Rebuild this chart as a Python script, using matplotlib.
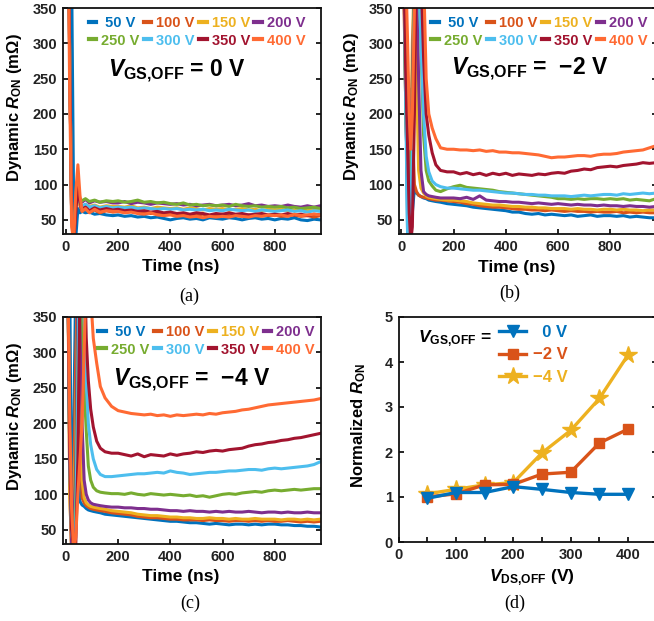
import matplotlib.pyplot as plt
from matplotlib.ticker import MultipleLocator

plt.rcParams['font.family'] = ['Liberation Sans', 'DejaVu Sans']
plt.rcParams['font.weight'] = 'bold'
plt.rcParams['mathtext.fontset'] = 'custom'
plt.rcParams['mathtext.rm'] = 'Liberation Sans:bold'
plt.rcParams['mathtext.bf'] = 'Liberation Sans:bold'
plt.rcParams['mathtext.it'] = 'Liberation Sans:italic:bold'

W, H = 654, 621

volts = [50, 100, 150, 200, 250, 300, 350, 400]
labels = [' 50 V', '100 V', '150 V', '200 V', '250 V', '300 V', '350 V', '400 V']
colors = ['#0072BD', '#D95319', '#EDB120', '#7E2F8E',
          '#77AC30', '#4DBEEE', '#A2142F', '#FF6A33']

# common sampling of the settled part of every trace (ns)
tail_t = list(range(200, 1000, 25))

# ---- (a) VGS,OFF = 0 V ----
a_head_t = [0, 10, 14, 22, 30, 38, 46, 54, 62, 75, 90, 110, 130, 155, 180]
a_head = [
    [800, 800, 700, 400, 60, 25, 66, 60, 62, 60, 61, 58, 59, 57, 56],
    [800, 500, 300, 60, 20, 75, 95, 70, 62, 66, 61, 64, 60, 63, 61],
    [800, 500, 300, 60, 25, 70, 85, 72, 68, 72, 69, 71, 68, 70, 69],
    [800, 500, 300, 60, 25, 75, 90, 78, 75, 79, 74, 77, 75, 76, 74],
    [800, 500, 300, 60, 25, 78, 88, 80, 77, 80, 76, 78, 75, 77, 76],
    [800, 500, 300, 60, 25, 72, 90, 74, 70, 72, 68, 70, 67, 69, 67],
    [800, 500, 300, 60, 15, 60, 102, 75, 65, 68, 63, 67, 64, 66, 64],
    [800, 420, 250, 40, 20, 90, 128, 85, 62, 66, 60, 65, 61, 63, 62],
]
a_tail = [
    [57, 55, 56, 54, 55, 53, 54, 52, 50, 52, 53, 51, 52, 50, 53, 52,
     51, 53, 52, 50, 52, 53, 51, 52, 50, 52, 51, 53, 50, 49, 51, 50],
    [62, 61, 62, 60, 61, 59, 60, 58, 59, 57, 58, 56, 57, 58, 56, 57,
     58, 56, 57, 55, 57, 56, 58, 56, 57, 55, 56, 57, 55, 56, 54, 56],
    [69, 68, 70, 67, 68, 66, 68, 67, 66, 67, 65, 67, 66, 64, 66, 65,
     66, 64, 65, 66, 64, 65, 63, 65, 64, 65, 63, 64, 65, 63, 64, 63],
    [74, 76, 73, 75, 74, 72, 74, 73, 72, 73, 71, 72, 70, 71, 72, 70,
     71, 72, 70, 71, 73, 70, 71, 69, 70, 69, 71, 69, 68, 70, 68, 70],
    [77, 75, 76, 78, 75, 76, 74, 75, 73, 72, 74, 71, 72, 70, 71, 70,
     71, 69, 72, 70, 69, 70, 68, 69, 68, 69, 67, 68, 66, 67, 68, 66],
    [68, 67, 68, 66, 67, 66, 65, 66, 65, 66, 64, 65, 64, 65, 63, 64,
     63, 65, 64, 63, 64, 62, 64, 63, 62, 63, 64, 62, 63, 61, 63, 62],
    [65, 63, 64, 62, 63, 61, 62, 60, 61, 59, 60, 58, 60, 59, 57, 59,
     58, 60, 58, 59, 57, 58, 59, 57, 58, 57, 59, 57, 58, 56, 58, 57],
    [62, 60, 61, 59, 58, 60, 57, 56, 57, 55, 56, 54, 55, 53, 55, 54,
     55, 54, 56, 55, 54, 56, 55, 57, 56, 57, 55, 58, 56, 57, 58, 57],
]

# ---- (b) VGS,OFF = -2 V ----
b_head_t = [0, 10, 17, 24, 30, 36, 42, 50, 58, 66, 75, 85, 95, 105, 118, 132, 150, 175]
b_head = [
    [600, 400, 250, 20, 40, 190, 60, 95, 88, 85, 83, 81, 80, 78, 77, 76, 75, 73],
    [600, 350, 230, 150, 100, 235, 180, 100, 90, 85, 83, 82, 81, 80, 79, 78, 78, 77],
    [600, 400, 200, 120, 60, 150, 300, 400, 250, 120, 95, 88, 84, 82, 81, 80, 79, 78],
    [600, 400, 200, 100, 50, 120, 250, 400, 400, 250, 120, 90, 86, 84, 83, 82, 81, 81],
    [600, 400, 200, 100, 50, 100, 200, 400, 500, 400, 300, 170, 120, 105, 98, 92, 90, 94],
    [600, 400, 200, 25, 20, 60, 150, 350, 500, 400, 300, 200, 140, 118, 105, 100, 97, 95],
    [600, 400, 250, 150, 60, 20, 40, 200, 450, 500, 400, 280, 200, 170, 145, 128, 120, 118],
    [600, 500, 400, 300, 200, 150, 200, 350, 500, 600, 500, 400, 250, 200, 180, 165, 152, 150],
]
b_tail = [
    [72, 71, 70, 68, 67, 66, 65, 64, 63, 61, 61, 59, 58, 59, 57, 58,
     57, 56, 57, 55, 56, 57, 55, 56, 56, 55, 56, 54, 55, 54, 53, 53],
    [76, 75, 73, 72, 70, 69, 68, 68, 67, 66, 65, 65, 64, 64, 63, 64,
     63, 62, 63, 62, 62, 61, 62, 61, 61, 62, 60, 61, 60, 61, 60, 60],
    [78, 77, 76, 74, 73, 72, 71, 71, 70, 69, 69, 68, 68, 67, 67, 66,
     66, 66, 65, 66, 65, 65, 64, 65, 65, 64, 65, 64, 64, 63, 64, 64],
    [81, 80, 82, 79, 84, 78, 77, 76, 76, 75, 75, 74, 73, 74, 73, 72,
     73, 72, 71, 72, 71, 71, 70, 71, 70, 70, 69, 70, 69, 69, 68, 69],
    [97, 99, 96, 95, 94, 93, 92, 90, 89, 88, 87, 86, 85, 84, 83, 82,
     80, 80, 79, 80, 79, 80, 80, 79, 80, 79, 80, 78, 79, 78, 77, 80],
    [95, 94, 93, 92, 92, 91, 90, 89, 88, 88, 87, 86, 86, 85, 85, 84,
     84, 84, 83, 84, 85, 84, 85, 86, 86, 85, 87, 86, 87, 88, 87, 88],
    [118, 115, 117, 114, 116, 113, 116, 114, 116, 113, 115, 114, 113, 115, 114, 116,
     117, 116, 119, 120, 122, 121, 124, 125, 126, 125, 127, 128, 129, 131, 130, 131],
    [150, 149, 149, 148, 149, 147, 148, 146, 146, 145, 145, 144, 143, 142, 140, 138,
     139, 139, 140, 141, 141, 140, 142, 143, 143, 144, 146, 147, 148, 149, 152, 155],
]

# ---- (c) VGS,OFF = -4 V ----
c_head_t = [0, 8, 15, 22, 30, 38, 46, 54, 62, 70, 78, 86, 95, 105, 118, 132, 150, 175]
c_head = [
    [600, 500, 400, 20, 200, 400, 200, 90, 85, 83, 80, 78, 77, 76, 75, 74, 72, 71],
    [600, 400, 100, 20, 100, 300, 400, 200, 95, 88, 84, 82, 80, 79, 78, 77, 76, 74],
    [600, 400, 100, 20, 60, 200, 400, 300, 120, 95, 88, 85, 83, 82, 81, 80, 79, 77],
    [600, 400, 150, 20, 40, 150, 400, 400, 200, 120, 100, 92, 88, 86, 85, 84, 83, 82],
    [600, 400, 150, 50, 20, 100, 300, 500, 400, 250, 190, 140, 120, 110, 105, 103, 102, 101],
    [600, 400, 150, 50, 20, 60, 250, 500, 500, 350, 260, 200, 170, 150, 135, 128, 125, 125],
    [600, 400, 150, 50, 20, 30, 150, 400, 500, 450, 320, 260, 220, 195, 175, 165, 160, 158],
    [600, 400, 200, 80, 20, 40, 100, 150, 200, 300, 420, 500, 380, 320, 285, 252, 236, 224],
]
c_tail = [
    [70, 69, 68, 67, 66, 65, 64, 63, 62, 62, 61, 60, 60, 59, 58, 59,
     58, 57, 58, 58, 57, 58, 57, 58, 58, 57, 57, 56, 56, 55, 55, 54],
    [73, 72, 71, 69, 68, 67, 67, 66, 65, 65, 64, 64, 64, 63, 64, 63,
     63, 62, 63, 63, 62, 63, 62, 63, 62, 62, 63, 62, 61, 62, 61, 62],
    [76, 75, 74, 72, 71, 70, 70, 69, 68, 68, 67, 67, 66, 66, 67, 66,
     66, 65, 66, 65, 65, 66, 65, 65, 65, 64, 65, 65, 64, 65, 64, 65],
    [82, 81, 81, 80, 80, 79, 79, 78, 77, 77, 76, 77, 76, 76, 75, 76,
     75, 76, 75, 75, 76, 75, 74, 75, 75, 74, 75, 74, 74, 75, 74, 74],
    [101, 100, 102, 100, 99, 101, 100, 99, 100, 99, 98, 99, 97, 98, 96, 98,
     100, 101, 100, 102, 103, 104, 103, 105, 106, 105, 106, 107, 106, 107, 108, 108],
    [126, 127, 128, 129, 129, 130, 131, 130, 133, 131, 130, 128, 129, 130, 131, 131,
     132, 133, 133, 134, 135, 135, 134, 136, 137, 136, 137, 138, 139, 140, 142, 146],
    [158, 156, 154, 157, 153, 156, 155, 154, 157, 155, 157, 158, 160, 159, 161, 162,
     161, 163, 164, 165, 168, 170, 171, 173, 174, 176, 177, 179, 180, 182, 184, 186],
    [218, 216, 214, 213, 212, 213, 211, 212, 210, 212, 211, 212, 213, 212, 214, 213,
     215, 216, 217, 219, 220, 222, 224, 226, 227, 228, 229, 230, 231, 232, 233, 235],
]

# ---- (d) normalized dynamic RON ----
vds_off = [50, 100, 150, 200, 250, 300, 350, 400]
norm_0v = [0.97, 1.10, 1.10, 1.23, 1.17, 1.10, 1.06, 1.06]
norm_m2v = [1.00, 1.07, 1.27, 1.28, 1.51, 1.55, 2.20, 2.51]
norm_m4v = [1.07, 1.17, 1.27, 1.32, 1.98, 2.48, 3.19, 4.16]

tick_color = '#222222'
# legend fills column by column: put 50..200 V on the first row
leg_order = [0, 4, 1, 5, 2, 6, 3, 7]


def box(left, top, right, bottom):
    return [left / W, 1 - bottom / H, (right - left) / W, (bottom - top) / H]


def style_axes(ax):
    for s in ax.spines.values():
        s.set_linewidth(1.3)
        s.set_color('#111111')
    ax.tick_params(direction='in', length=3.5, width=1.2, right=True,
                   labelsize=10.5, labelcolor=tick_color, pad=4)
    ax.tick_params(which='minor', direction='in', length=3.5, width=1.2, right=True)
    for lab in ax.get_xticklabels() + ax.get_yticklabels():
        lab.set_fontweight('bold')


def trace_panel(rect, head_t, heads, tails, vgs_text, vgs_xy, leg_anchor):
    ax = fig.add_axes(rect)
    lines = []
    for i in range(len(volts)):
        ln, = ax.plot(head_t + tail_t, heads[i] + tails[i], color=colors[i],
                      lw=2.2, solid_joinstyle='round')
        lines.append(ln)
    ax.set_xlim(-11, 977)
    ax.set_ylim(30, 350)
    ax.set_xticks([0, 200, 400, 600, 800])
    ax.set_yticks([50, 100, 150, 200, 250, 300, 350])
    style_axes(ax)
    leg = ax.legend([lines[k] for k in leg_order], [labels[k] for k in leg_order],
                    ncol=4, loc='upper right', bbox_to_anchor=leg_anchor,
                    frameon=False, handlelength=0.5, handletextpad=0.35,
                    columnspacing=0.3, labelspacing=0.25, borderpad=0, borderaxespad=0,
                    prop={'weight': 'bold', 'size': 10.5})
    for txt, k in zip(leg.get_texts(), leg_order):
        txt.set_color(colors[k])
    for h in leg.legend_handles:
        h.set_linewidth(3)
    ax.text(vgs_xy[0], vgs_xy[1], vgs_text, transform=ax.transAxes,
            fontsize=16.5, fontweight='bold', ha='center', va='center')
    return ax


fig = plt.figure(figsize=(W / 100, H / 100), dpi=100)

trace_panel(box(63, 8, 321, 234), a_head_t, a_head, a_tail,
            r'$V_{\rm GS{,}OFF}$ = 0 V', (0.44, 0.72), (0.94, 0.965))
trace_panel(box(398.5, 8, 656.5, 234), b_head_t, b_head, b_tail,
            '$V_{\\rm GS{,}OFF}$ =  \u22122 V', (0.51, 0.73), (0.967, 0.965))
trace_panel(box(63, 317, 321, 544), c_head_t, c_head, c_tail,
            '$V_{\\rm GS{,}OFF}$ =  \u22124 V', (0.50, 0.72), (0.977, 0.965))

axd = fig.add_axes(box(398.5, 317, 656.8, 542))
l4, = axd.plot(vds_off, norm_m4v, color='#EDB120', lw=2.4, marker='*', ms=13, zorder=2)
l2, = axd.plot(vds_off, norm_m2v, color='#D95319', lw=2.4, marker='s', ms=6.5, zorder=3)
l0, = axd.plot(vds_off, norm_0v, color='#0072BD', lw=2.4, marker='v', ms=8.5, zorder=4)
axd.set_xlim(0, 450)
axd.set_ylim(0, 5)
axd.xaxis.set_major_locator(MultipleLocator(100))
axd.xaxis.set_minor_locator(MultipleLocator(50))
axd.yaxis.set_major_locator(MultipleLocator(1))
style_axes(axd)
legd = axd.legend([l0, l2, l4], ['  0 V', '\u22122 V', '\u22124 V'], loc='upper left',
                  bbox_to_anchor=(0.39, 0.965), frameon=False, handlelength=1.6,
                  handletextpad=0.4, labelspacing=0.45, borderpad=0, borderaxespad=0,
                  prop={'weight': 'bold', 'size': 12})
for txt, c in zip(legd.get_texts(), ['#0072BD', '#D95319', '#EDB120']):
    txt.set_color(c)
fig.text(455 / W, 1 - 339 / H, r'$V_{\rm GS{,}OFF}$ =', fontsize=12.5,
         fontweight='bold', ha='center', va='center')

# axis titles
ylab = 'Dynamic $R_{\\rm ON}$ (m\u03a9)'
fig.text(15 / W, 1 - 108 / H, ylab, rotation=90, fontsize=12, fontweight='bold',
         ha='center', va='center')
fig.text(352 / W, 1 - 107 / H, ylab, rotation=90, fontsize=12, fontweight='bold',
         ha='center', va='center')
fig.text(15 / W, 1 - 417 / H, ylab, rotation=90, fontsize=12, fontweight='bold',
         ha='center', va='center')
fig.text(359 / W, 1 - 426 / H, r'Normalized $R_{\rm ON}$', rotation=90, fontsize=12,
         fontweight='bold', ha='center', va='center')
fig.text(181 / W, 1 - 267 / H, 'Time (ns)', fontsize=12.5, fontweight='bold',
         ha='center', va='center')
fig.text(517 / W, 1 - 268 / H, 'Time (ns)', fontsize=12.5, fontweight='bold',
         ha='center', va='center')
fig.text(181 / W, 1 - 577 / H, 'Time (ns)', fontsize=12.5, fontweight='bold',
         ha='center', va='center')
fig.text(532 / W, 1 - 578 / H, r'$V_{\rm DS{,}OFF}$ (V)', fontsize=12.5,
         fontweight='bold', ha='center', va='center')

# sub-figure captions
for x, y, s in [(189, 296, '(a)'), (510, 293, '(b)'), (190, 603, '(c)'), (515, 603, '(d)')]:
    fig.text(x / W, 1 - y / H, s, fontsize=13, family='Liberation Serif',
             fontweight='normal', ha='center', va='center')

fig.savefig('out.png', dpi=100)
